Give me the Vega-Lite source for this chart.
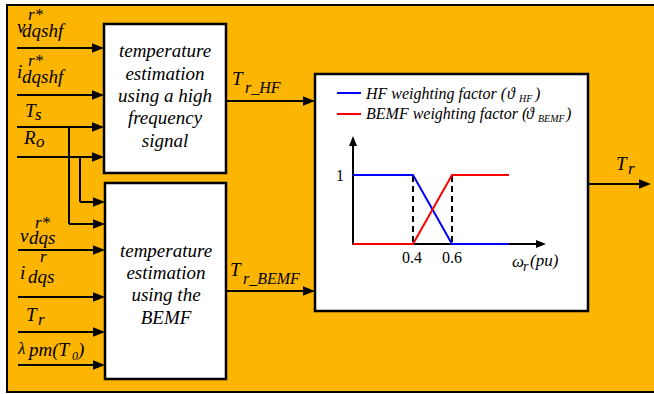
{
  "$schema": "https://vega.github.io/schema/vega-lite/v6.json",
  "width": 654,
  "height": 394,
  "padding": 0,
  "autosize": "none",
  "background": "white",
  "view": {"stroke": null},
  "config": {"text": {"font": "'Liberation Serif', 'Times New Roman', 'DejaVu Serif', serif"}},
  "datasets": {
    "frame": [{"x": 7, "x2": 660, "y": 5, "y2": 392}],
    "boxes": [
      {"name": "HF", "x": 104, "x2": 226, "y": 24, "y2": 173},
      {"name": "BEMF", "x": 105, "x2": 226, "y": 183, "y2": 379},
      {"name": "Weights", "x": 315, "x2": 588, "y": 74, "y2": 311}
    ],
    "wires": [
      {"x": 17, "x2": 98, "y": 48, "y2": 48},
      {"x": 17, "x2": 98, "y": 95, "y2": 95},
      {"x": 17, "x2": 98, "y": 127, "y2": 127},
      {"x": 17, "x2": 98, "y": 157, "y2": 157},
      {"x": 69, "x2": 69, "y": 127, "y2": 224},
      {"x": 80, "x2": 80, "y": 157, "y2": 202},
      {"x": 80, "x2": 98, "y": 202, "y2": 202},
      {"x": 69, "x2": 98, "y": 224, "y2": 224},
      {"x": 18, "x2": 98, "y": 250, "y2": 250},
      {"x": 18, "x2": 98, "y": 297, "y2": 297},
      {"x": 18, "x2": 98, "y": 332, "y2": 332},
      {"x": 18, "x2": 98, "y": 365, "y2": 365},
      {"x": 226, "x2": 309, "y": 101, "y2": 101},
      {"x": 226, "x2": 309, "y": 291, "y2": 291},
      {"x": 588, "x2": 645, "y": 184, "y2": 184}
    ],
    "heads": [
      {"x": 104, "y": 48}, {"x": 104, "y": 95}, {"x": 104, "y": 127}, {"x": 104, "y": 157},
      {"x": 105, "y": 202}, {"x": 105, "y": 224}, {"x": 105, "y": 250}, {"x": 105, "y": 297},
      {"x": 105, "y": 332}, {"x": 105, "y": 365},
      {"x": 315, "y": 101}, {"x": 315, "y": 291}, {"x": 651, "y": 184}
    ],
    "axes": [
      {"x": 353, "x2": 353, "y": 245, "y2": 142},
      {"x": 352, "x2": 540, "y": 244, "y2": 244}
    ],
    "axisRight": [{"x": 546, "y": 244}],
    "axisUp": [{"x": 353, "y": 136}],
    "dashes": [
      {"x": 413, "x2": 413, "y": 176, "y2": 244},
      {"x": 452, "x2": 452, "y": 176, "y2": 244}
    ],
    "curves": [
      {"s": "HF", "x": 353, "y": 175}, {"s": "HF", "x": 413, "y": 175},
      {"s": "HF", "x": 452, "y": 244}, {"s": "HF", "x": 509, "y": 244},
      {"s": "BEMF", "x": 353, "y": 244}, {"s": "BEMF", "x": 413, "y": 244},
      {"s": "BEMF", "x": 452, "y": 175}, {"s": "BEMF", "x": 509, "y": 175}
    ],
    "keys": [
      {"s": "HF", "x": 337, "x2": 361, "y": 93, "y2": 93},
      {"s": "BEMF", "x": 337, "x2": 361, "y": 114, "y2": 114}
    ],
    "mainLabels": [
      {"x": 17, "y": 33, "t": "v"}, {"x": 22, "y": 37, "t": "dqshf"},
      {"x": 17, "y": 78, "t": "i"}, {"x": 22, "y": 83, "t": "dqshf"},
      {"x": 25, "y": 117, "t": "T"}, {"x": 24, "y": 144, "t": "R"},
      {"x": 20, "y": 242, "t": "v"}, {"x": 29, "y": 244, "t": "dqs"},
      {"x": 20, "y": 279, "t": "i"}, {"x": 28, "y": 283, "t": "dqs"},
      {"x": 26, "y": 321, "t": "T"}, {"x": 29, "y": 356, "t": "pm(T"},
      {"x": 78, "y": 356, "t": ")"},
      {"x": 232, "y": 85, "t": "T"}, {"x": 230, "y": 276, "t": "T"},
      {"x": 616, "y": 170, "t": "T"}
    ],
    "subLabels": [
      {"x": 28, "y": 20, "t": "r*"}, {"x": 28, "y": 66, "t": "r*"},
      {"x": 35, "y": 120, "t": "s"}, {"x": 36, "y": 147, "t": "o"},
      {"x": 35, "y": 228, "t": "r*"}, {"x": 40, "y": 262, "t": "r"},
      {"x": 38, "y": 325, "t": "r"}, {"x": 18, "y": 354, "t": "λ"},
      {"x": 628, "y": 174, "t": "r"}
    ],
    "tinyLabels": [
      {"x": 72, "y": 360, "t": "0"}
    ],
    "outSubs": [
      {"x": 245, "y": 93, "t": "r_HF"}, {"x": 243, "y": 284, "t": "r_BEMF"}
    ],
    "boxText": [
      {"x": 165, "y": 57, "t": "temperature"},
      {"x": 165, "y": 80, "t": "estimation"},
      {"x": 165, "y": 102, "t": "using a high"},
      {"x": 165, "y": 124, "t": "frequency"},
      {"x": 165, "y": 147, "t": "signal"},
      {"x": 166, "y": 257, "t": "temperature"},
      {"x": 166, "y": 279, "t": "estimation"},
      {"x": 166, "y": 301, "t": "using the"},
      {"x": 166, "y": 324, "t": "BEMF"}
    ],
    "legendText": [
      {"x": 366, "y": 99, "t": "HF weighting factor ("},
      {"x": 366, "y": 119, "t": "BEMF weighting factor ("},
      {"x": 507, "y": 99, "t": "ϑ"},
      {"x": 526, "y": 119, "t": "ϑ"},
      {"x": 535, "y": 99, "t": ")"},
      {"x": 566, "y": 119, "t": ")"}
    ],
    "legendSubs": [
      {"x": 519, "y": 102, "t": "HF"},
      {"x": 538, "y": 122, "t": "BEMF"}
    ],
    "ticks": [
      {"x": 340, "y": 181, "t": "1"},
      {"x": 412, "y": 263, "t": "0.4"},
      {"x": 452, "y": 263, "t": "0.6"}
    ],
    "axisTitle": [
      {"x": 512, "y": 267, "t": "ω"},
      {"x": 530, "y": 266, "t": "(pu)"}
    ],
    "axisTitleSub": [
      {"x": 523, "y": 271, "t": "r"}
    ]
  },
  "encoding": {
    "x": {"field": "x", "type": "quantitative", "scale": {"domain": [0, 654], "nice": false, "zero": false}, "axis": null},
    "y": {"field": "y", "type": "quantitative", "scale": {"domain": [0, 394], "nice": false, "zero": false, "reverse": true}, "axis": null}
  },
  "layer": [
    {
      "data": {"name": "frame"},
      "mark": {"type": "rect", "fill": "#FCB500", "stroke": "black", "strokeWidth": 2, "clip": true},
      "encoding": {"x2": {"field": "x2"}, "y2": {"field": "y2"}}
    },
    {
      "data": {"name": "boxes"},
      "mark": {"type": "rect", "fill": "white", "stroke": "black", "strokeWidth": 2.5},
      "encoding": {"x2": {"field": "x2"}, "y2": {"field": "y2"}}
    },
    {
      "data": {"name": "wires"},
      "mark": {"type": "rule", "color": "black", "strokeWidth": 2},
      "encoding": {"x2": {"field": "x2"}, "y2": {"field": "y2"}}
    },
    {
      "data": {"name": "heads"},
      "mark": {"type": "point", "shape": "M-2,-0.8L0,0L-2,0.8Z", "filled": true, "color": "black", "opacity": 1, "size": 144, "strokeWidth": 0}
    },
    {
      "data": {"name": "axes"},
      "mark": {"type": "rule", "color": "black", "strokeWidth": 2},
      "encoding": {"x2": {"field": "x2"}, "y2": {"field": "y2"}}
    },
    {
      "data": {"name": "axisRight"},
      "mark": {"type": "point", "shape": "M-2,-0.8L0,0L-2,0.8Z", "filled": true, "color": "black", "opacity": 1, "size": 100, "strokeWidth": 0}
    },
    {
      "data": {"name": "axisUp"},
      "mark": {"type": "point", "shape": "M-0.8,2L0,0L0.8,2Z", "filled": true, "color": "black", "opacity": 1, "size": 100, "strokeWidth": 0}
    },
    {
      "data": {"name": "dashes"},
      "mark": {"type": "rule", "color": "black", "strokeWidth": 2, "strokeDash": [6, 4]},
      "encoding": {"x2": {"field": "x2"}, "y2": {"field": "y2"}}
    },
    {
      "data": {"name": "curves"},
      "mark": {"type": "line", "strokeWidth": 2},
      "encoding": {
        "color": {"field": "s", "type": "nominal", "scale": {"domain": ["HF", "BEMF"], "range": ["#0000ff", "#ff0000"]}, "legend": null}
      }
    },
    {
      "data": {"name": "keys"},
      "mark": {"type": "rule", "strokeWidth": 2},
      "encoding": {
        "x2": {"field": "x2"}, "y2": {"field": "y2"},
        "color": {"field": "s", "type": "nominal", "scale": {"domain": ["HF", "BEMF"], "range": ["#0000ff", "#ff0000"]}, "legend": null}
      }
    },
    {
      "data": {"name": "mainLabels"},
      "mark": {"type": "text", "fontSize": 19, "fontStyle": "italic", "align": "left", "baseline": "alphabetic", "color": "black"},
      "encoding": {"text": {"field": "t"}}
    },
    {
      "data": {"name": "subLabels"},
      "mark": {"type": "text", "fontSize": 17, "fontStyle": "italic", "align": "left", "baseline": "alphabetic", "color": "black"},
      "encoding": {"text": {"field": "t"}}
    },
    {
      "data": {"name": "tinyLabels"},
      "mark": {"type": "text", "fontSize": 12, "fontStyle": "italic", "align": "left", "baseline": "alphabetic", "color": "black"},
      "encoding": {"text": {"field": "t"}}
    },
    {
      "data": {"name": "outSubs"},
      "mark": {"type": "text", "fontSize": 16, "fontStyle": "italic", "align": "left", "baseline": "alphabetic", "color": "black"},
      "encoding": {"text": {"field": "t"}}
    },
    {
      "data": {"name": "boxText"},
      "mark": {"type": "text", "fontSize": 19, "fontStyle": "italic", "align": "center", "baseline": "alphabetic", "color": "black"},
      "encoding": {"text": {"field": "t"}}
    },
    {
      "data": {"name": "legendText"},
      "mark": {"type": "text", "fontSize": 16, "fontStyle": "italic", "align": "left", "baseline": "alphabetic", "color": "black"},
      "encoding": {"text": {"field": "t"}}
    },
    {
      "data": {"name": "legendSubs"},
      "mark": {"type": "text", "fontSize": 10, "fontStyle": "italic", "align": "left", "baseline": "alphabetic", "color": "black"},
      "encoding": {"text": {"field": "t"}}
    },
    {
      "data": {"name": "ticks"},
      "mark": {"type": "text", "fontSize": 16, "align": "center", "baseline": "alphabetic", "color": "black"},
      "encoding": {"text": {"field": "t"}}
    },
    {
      "data": {"name": "axisTitle"},
      "mark": {"type": "text", "fontSize": 17, "fontStyle": "italic", "align": "left", "baseline": "alphabetic", "color": "black"},
      "encoding": {"text": {"field": "t"}}
    },
    {
      "data": {"name": "axisTitleSub"},
      "mark": {"type": "text", "fontSize": 14, "fontStyle": "italic", "align": "left", "baseline": "alphabetic", "color": "black"},
      "encoding": {"text": {"field": "t"}}
    }
  ]
}
